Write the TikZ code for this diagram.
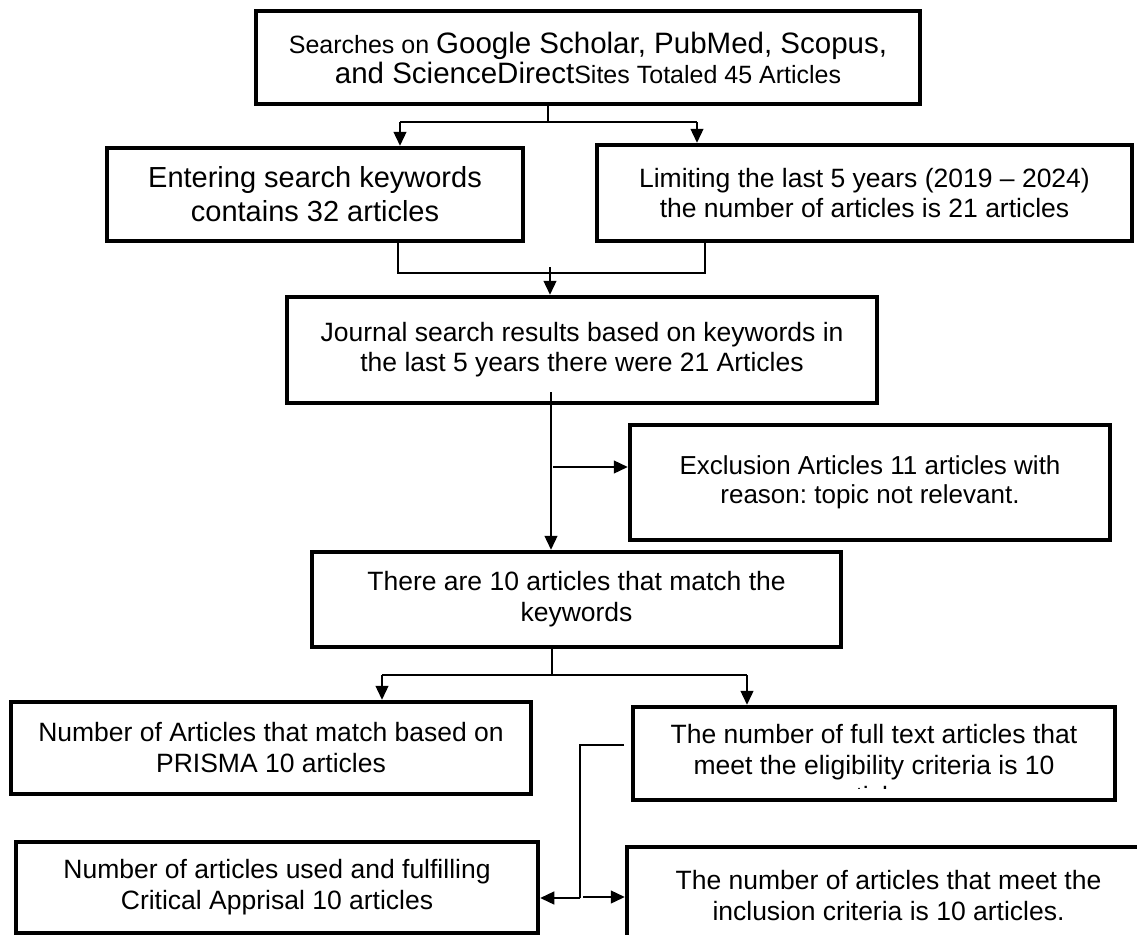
\documentclass[tikz,border=0pt]{standalone}
\usepackage{fontspec}
\setmainfont{Liberation Sans}
\usetikzlibrary{arrows.meta}
\frenchspacing
\newcommand\fA{\fontsize{26.5bp}{31bp}\selectfont}
\newcommand\fE{\fontsize{26bp}{29bp}\selectfont}
\newcommand\fC{\fontsize{26.5bp}{30bp}\selectfont}
\newcommand\fK{\fontsize{29bp}{34bp}\selectfont}
\newcommand\fBig{\fontsize{29.5bp}{30bp}\selectfont}
\newcommand\fSm{\fontsize{25bp}{30bp}\selectfont}
\begin{document}
\begin{tikzpicture}[x=1bp,y=-1bp,
  box/.style={draw, line width=4.5bp, inner sep=0pt, align=center, font=\fA},
  con/.style={line width=1.3bp},
  arr/.style={con, -{Triangle[length=14bp,width=13bp]}}]
\clip (0,0) rectangle (1137,935);
\fill[white] (0,0) rectangle (1137,935);

% boxes
\node[box, font=\fSm, minimum width=664bp, minimum height=93bp] (box1) at (588,57.5)
  {Searches on {\fBig Google Scholar, PubMed, Scopus,}\\ {\fBig and ScienceDirect}Sites Totaled 45 Articles};
\node[box, font=\fK, minimum width=416bp, minimum height=93bp] (box2) at (315,194.5)
  {Entering search keywords\\ contains 32 articles};
\node[box, font=\fC, minimum width=535bp, minimum height=96bp] (box3) at (864.5,193)
  {Limiting the last 5 years (2019 -- 2024)\\ the number of articles is 21 articles};
\node[box, font=\fC, minimum width=590bp, minimum height=106bp] (box4) at (582,350)
  {Journal search results based on keywords in\\ the last 5 years there were 21 Articles};
\node[box, font=\fE, minimum width=480bp, minimum height=115bp] (box5) at (870,482.5)
  {Exclusion Articles 11 articles with\\ reason: topic not relevant.};
\node[box, minimum width=529bp, minimum height=95bp] (box6) at (576.5,599.5)
  {There are 10 articles that match the\\ keywords};
\node[box, minimum width=520bp, minimum height=92bp] (box7) at (271,748)
  {Number of Articles that match based on\\ PRISMA 10 articles};
\node[box, minimum width=482bp, minimum height=93bp] (box8) at (874,753.5) {};
\begin{scope}
  \clip (633,709) rectangle (1115,788);
  \node[font=\fA, align=center, inner sep=0pt] (box8text) at (874,765.5)
    {The number of full text articles that\\ meet the eligibility criteria is 10\\ articles};
\end{scope}
\node[box, minimum width=522bp, minimum height=91bp] (box9) at (277,887.5)
  {Number of articles used and fulfilling\\ Critical Apprisal 10 articles};
\node[box, minimum width=523bp, minimum height=98bp] (box10) at (888.5,896)
  {The number of articles that meet the\\ inclusion criteria is 10 articles.};

% connectors: stage 1
\coordinate (a1) at (548,122);
\coordinate (a2) at (400,122);
\coordinate (a3) at (697,122);
\draw[con] (box1.south -| a1) -- (a1);
\draw[con] (a2) -- (a3);
\draw[arr] (a2) -- (a2 |- box2.north);
\draw[arr] (a3) -- (a3 |- box3.north);

% stage 2
\coordinate (b1) at (398,273);
\coordinate (b2) at (705,273);
\coordinate (b3) at (550,267);
\draw[con] (box2.south -| b1) -- (b1) -- (b2) -- (box3.south -| b2);
\draw[arr] (b3) -- (b3 |- box4.north);

% stage 3
\coordinate (c1) at (551,392);
\coordinate (c2) at (553,467);
\draw[arr] (c1) -- (c1 |- box6.north);
\draw[arr] (c2) -- (c2 -| box5.west);

% stage 4
\coordinate (d1) at (552,675);
\coordinate (d2) at (382,675);
\coordinate (d3) at (747,675);
\draw[con] (box6.south -| d1) -- (d1);
\draw[con] (d2) -- (d3);
\draw[arr] (d2) -- (d2 |- box7.north);
\draw[arr] (d3) -- (d3 |- box8.north);

% stage 5
\coordinate (e1) at (624,745);
\coordinate (e2) at (580,745);
\coordinate (e3) at (580,898);
\coordinate (e4) at (583,897);
\draw[con] (e1) -- (e2) -- (e3);
\draw[arr] (e3) -- (e3 -| box9.east);
\draw[arr] (e4) -- (e4 -| box10.west);
\end{tikzpicture}
\end{document}
